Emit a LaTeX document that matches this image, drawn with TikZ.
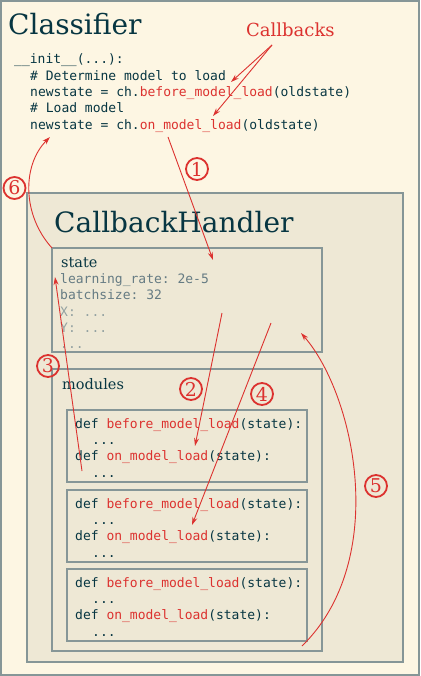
\documentclass[tikz,border=0pt]{standalone}
\usepackage{fontspec}
\setmainfont{DejaVu Serif}
\setmonofont{DejaVu Sans Mono}
\usetikzlibrary{arrows.meta}
\definecolor{bgout}{HTML}{FDF6E3}
\definecolor{bgin}{HTML}{EEE8D5}
\definecolor{bord}{HTML}{869697}
\definecolor{ink}{HTML}{073642}
\definecolor{sred}{HTML}{DC322F}
\definecolor{grayA}{HTML}{657B83}
\definecolor{grayB}{HTML}{93A1A1}
\begin{document}
\begin{tikzpicture}[x=1pt,y=-1pt,
  box/.style={draw=bord,line width=2.2pt,fill=bgin,anchor=north west,inner sep=0,outer sep=0},
  bigtitle/.style={font=\fontsize{28}{32}\selectfont,text=ink,anchor=base west,inner sep=0},
  subtitle/.style={font=\fontsize{14.5}{16}\selectfont,text=ink,anchor=base west,inner sep=0},
  code/.style={font=\ttfamily\fontsize{13}{16}\selectfont,text=ink,anchor=base west,inner sep=0},
  val/.style={code,text=grayA},
  valb/.style={code,text=grayB},
  circnum/.style={circle,draw=sred,line width=1.8pt,text=sred,minimum size=22pt,inner sep=0,
    font=\fontsize{19}{19}\selectfont},
  arr/.style={draw=sred,line width=0.9pt,-{Stealth[length=8pt,width=5pt]}}
]
\useasboundingbox (0,0) rectangle (420,676);
\node[draw=bord,line width=2.4pt,fill=bgout,anchor=north west,inner sep=0,outer sep=0,
  minimum width=417.6,minimum height=673.6] (outer) at (1.2,1.2) {};

% Classifier
\node[bigtitle] (cls) at (8,35) {Classifier};
\node[code] (c1) at (14,64) {\_\_init\_\_(...):};
\node[code] (c2) at (30,80.5) {\# Determine model to load};
\node[code] (c3) at (30,97) {newstate = ch.\textcolor{sred}{before\_model\_load}(oldstate)};
\node[code] (c4) at (30,113) {\# Load model};
\node[code] (c5) at (30,129.5) {newstate = ch.\textcolor{sred}{on\_model\_load}(oldstate)};
\node[font=\fontsize{18}{20}\selectfont,text=sred,anchor=base west,inner sep=0] (cb) at (246,37) {Callbacks};

% CallbackHandler
\node[box,minimum width=376,minimum height=469] (handler) at (27,193) {};
\node[bigtitle] (hname) at (54,232) {CallbackHandler};

% state
\node[box,minimum width=270,minimum height=104] (state) at (52,248) {};
\node[subtitle] (stname) at (61,267) {state};
\node[val] (s1) at (60,283) {learning\_rate: 2e-5};
\node[val] (s2) at (60,299.5) {batchsize: 32};
\node[valb] (s3) at (60,316) {X: ...};
\node[valb] (s4) at (60,332.5) {Y: ...};
\node[valb] (s5) at (60,348.5) {...};

% modules
\node[box,minimum width=270,minimum height=282] (modules) at (52,369) {};
\node[subtitle] (modname) at (62,389) {modules};
\foreach \n/\t in {m1/410, m2/490, m3/569} {
  \node[box,minimum width=240,minimum height=72] (\n) at (67,\t) {};
  \node[code] (\n-a) at (75,\t+18) {def \textcolor{sred}{before\_model\_load}(state):};
  \node[code] (\n-b) at (92,\t+34) {...};
  \node[code] (\n-c) at (75,\t+50) {def \textcolor{sred}{on\_model\_load}(state):};
  \node[code] (\n-d) at (92,\t+67) {...};
}

% circled numbers
\node[circnum] (n1) at (197,169) {1};
\node[circnum] (n2) at (191,389) {2};
\node[circnum] (n3) at (48,366) {3};
\node[circnum] (n4) at (262,394) {4};
\node[circnum] (n5) at (376,486) {5};
\node[circnum] (n6) at (14.5,188) {6};

% connector coordinates
\coordinate (cbt) at (272,45);
\coordinate (cbh1) at (231,82);
\coordinate (cbh2) at (213,116);
\coordinate (a1s) at (168,137);
\coordinate (a1e) at (213,260);
\coordinate (a2s) at (222,313);
\coordinate (a2e) at (195,446);
\coordinate (a3s) at (82,471);
\coordinate (a3e) at (55,277);
\coordinate (a4s) at (271,323);
\coordinate (a4e) at (192,525);
\coordinate (a5s) at (302,646);
\coordinate (a5e) at (301,333);
\coordinate (a6s) at (52,248);
\coordinate (a6e) at (50,137);

% connectors
\draw[arr] (cbt) -- (cbh1);
\draw[arr] (cbt) -- (cbh2);
\draw[arr] (a1s) -- (a1e);
\draw[arr] (a2s) -- (a2e);
\draw[arr] (a3s) -- (a3e);
\draw[arr] (a4s) -- (a4e);
\draw[arr] (a5s) .. controls (390,560) and (355,395) .. (a5e);
\draw[arr] (a6s) .. controls (22,215) and (22,165) .. (a6e);
\end{tikzpicture}
\end{document}
